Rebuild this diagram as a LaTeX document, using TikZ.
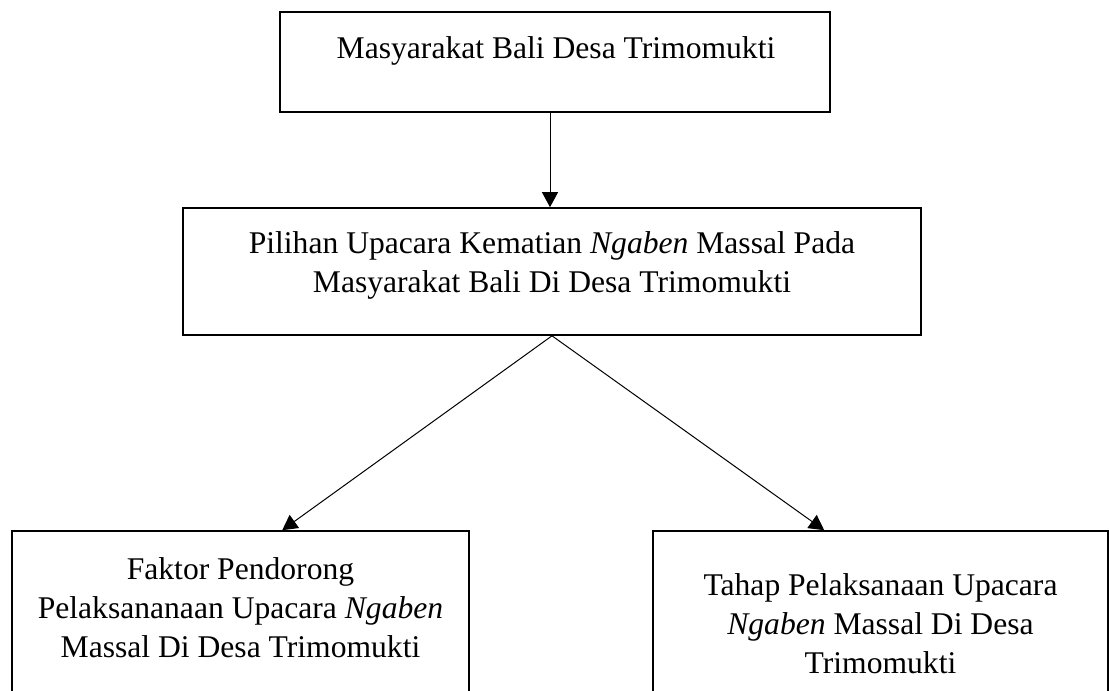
\documentclass[tikz,border=0pt]{standalone}
\usepackage{fontspec}
\setmainfont{Liberation Serif}
\usetikzlibrary{arrows.meta,calc}
\begin{document}
\begin{tikzpicture}[x=1pt,y=-1pt,
  boxstyle/.style={draw,line width=1.6pt,rectangle,inner sep=0pt},
  txt/.style={align=center,inner sep=0pt,font=\fontsize{31.6}{39}\selectfont},
  conn/.style={line width=1pt,-{Triangle[length=15pt,width=16pt]}}]
\useasboundingbox (0,0) rectangle (1109,691);
\clip (0,0) rectangle (1109,691);
\node[boxstyle,minimum width=550pt,minimum height=100pt] (top) at (555,62) {};
\node[boxstyle,minimum width=738pt,minimum height=127pt] (mid) at (552,271.5) {};
\node[boxstyle,minimum width=457pt,minimum height=170pt] (bl) at (240.5,616) {};
\node[boxstyle,minimum width=455pt,minimum height=170pt] (br) at (880.5,616) {};
\node[txt] (ttop) at (556,51) {Masyarakat Bali Desa Trimomukti};
\node[txt] (tmid) at (552,265) {Pilihan Upacara Kematian \textit{Ngaben} Massal Pada\\Masyarakat Bali Di Desa Trimomukti};
\node[txt] (tbl) at (240.5,608) {Faktor Pendorong\\Pelaksananaan Upacara \textit{Ngaben}\\Massal Di Desa Trimomukti};
\node[txt] (tbr) at (880.5,624) {Tahap Pelaksanaan Upacara\\\textit{Ngaben} Massal Di Desa\\Trimomukti};
\draw[conn] ([xshift=-5pt]top.south) -- ([xshift=-2pt]mid.north);
\draw[conn] (mid.south) -- ([xshift=271pt]bl.north west);
\draw[conn] (mid.south) -- ([xshift=172pt]br.north west);
\end{tikzpicture}
\end{document}
